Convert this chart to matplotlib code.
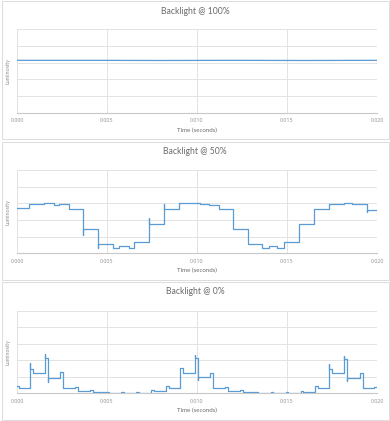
import matplotlib
matplotlib.use("Agg")
import matplotlib.pyplot as plt
from matplotlib.patches import Rectangle

plt.rcParams['font.family'] = ['Lato', 'DejaVu Sans']

# x ticks (seconds)
xticks = [0.000, 0.005, 0.010, 0.015, 0.020]
xtick_labels = ["0.000", "0.005", "0.010", "0.015", "0.020"]

# Backlight @ 100% : (time ms, luminosity)
t100 = [0.0, 4.0, 8.0, 12.0, 16.0, 20.0]
v100 = [3.14, 3.14, 3.13, 3.14, 3.13, 3.14]

# Backlight @ 50% : step start times (ms) and levels, end time 20 ms
t50 = [0.0, 0.65, 1.48, 2.04, 2.31, 2.87, 3.67, 4.50, 5.33, 5.65, 6.20, 6.48,
       7.35, 8.15, 9.02, 9.81, 10.19, 10.69, 11.20, 11.98, 12.83, 13.61, 13.98,
       14.44, 14.81, 15.65, 16.48, 17.31, 18.15, 18.61, 19.17, 19.44]
v50 = [2.70, 2.96, 3.02, 2.90, 2.98, 2.64, 1.44, 0.58, 0.30, 0.42, 0.34, 0.68,
       1.78, 2.68, 3.00, 3.04, 2.96, 2.90, 2.64, 1.44, 0.58, 0.30, 0.42,
       0.34, 0.66, 1.78, 2.68, 2.98, 3.02, 2.94, 2.98, 2.62]
# overshoot spikes at step edges (ms, peak value)
s50 = {3.67: 1.10, 4.50: 0.30, 7.35: 2.14, 8.15: 2.96, 19.44: 2.50}

# Backlight @ 0%
t0 = [0.0, 0.10, 0.70, 0.87, 1.54, 1.72, 2.37, 2.54, 3.24, 3.37, 4.07, 4.22,
      4.94, 5.09, 5.78, 5.93, 6.61, 6.76, 7.44, 7.59, 8.28, 8.43,
      9.07, 9.22, 9.87, 10.04, 10.70, 10.87, 11.57, 11.72, 12.41, 12.56,
      13.26, 13.41, 14.09, 14.24, 14.93, 15.08, 15.76, 15.91, 16.57, 16.72,
      17.33, 17.50, 18.18, 18.33, 19.05, 19.20, 19.85]
v0 = [0.44, 0.34, 1.50, 1.20, 2.16, 0.90, 1.26, 0.30, 0.40, 0.14, 0.20, 0.06,
      0.10, 0.04, 0.08, 0.02, 0.08, 0.04, 0.22, 0.12, 0.46, 0.34,
      1.54, 1.20, 2.16, 0.96, 1.24, 0.32, 0.40, 0.14, 0.20, 0.06,
      0.10, 0.04, 0.08, 0.02, 0.08, 0.04, 0.14, 0.10, 0.46, 0.34,
      1.50, 1.20, 2.10, 0.90, 1.24, 0.30, 0.40]
s0 = {0.70: 1.86, 1.54: 2.40, 1.72: 0.70, 9.07: 1.56, 9.87: 2.30, 10.04: 0.80,
      17.33: 1.80, 18.18: 2.26, 18.33: 0.76}

END_MS = 20.0


def build_steps(starts, levels, spikes):
    xs, ys = [], []
    for i, (t, v) in enumerate(zip(starts, levels)):
        if i > 0:
            xs.append(t / 1000)
            ys.append(levels[i - 1])
        if t in spikes:
            xs.append(t / 1000)
            ys.append(spikes[t])
        xs.append(t / 1000)
        ys.append(v)
    xs.append(END_MS / 1000)
    ys.append(levels[-1])
    return xs, ys


W, H = 390, 421
fig = plt.figure(figsize=(W / 100, H / 100), dpi=100)
fig.patch.set_facecolor('white')

panels = [
    ("Backlight @ 100%", ([t / 1000 for t in t100], v100), (1, 139), (29.3, 112.7)),
    ("Backlight @ 50%", build_steps(t50, v50, s50), (141.5, 279.5), (170.0, 253.3)),
    ("Backlight @ 0%", build_steps(t0, v0, s0), (282, 420), (310.7, 393.3)),
]

title_c = '#6b6b6b'
tick_c = '#8f8f8f'
blue = '#5B9BD5'

for title, (xs, ys), (ftop, fbot), (atop, abot) in panels:
    # panel frame
    fig.patches.append(Rectangle((1.5 / W, 1 - fbot / H), 387 / W, (fbot - ftop) / H,
                                 transform=fig.transFigure, fill=False,
                                 edgecolor='#dcdcdc', linewidth=0.7))
    ax = fig.add_axes([17 / W, 1 - abot / H, 360 / W, (abot - atop) / H])
    ax.plot(xs, ys, color=blue, linewidth=0.9)
    ax.set_xlim(0, 0.02)
    ax.set_ylim(0, 5)
    ax.set_xticks(xticks)
    ax.set_xticklabels(xtick_labels, family=['Open Sans', 'DejaVu Sans'])
    ax.set_yticks([0, 1, 2, 3, 4, 5])
    ax.set_yticklabels([])
    ax.grid(True, color='#e3e3e3', linewidth=0.7)
    ax.set_axisbelow(True)
    for s in ['top', 'right', 'left']:
        ax.spines[s].set_visible(False)
    ax.spines['bottom'].set_color('#c8c8c8')
    ax.spines['bottom'].set_linewidth(0.8)
    ax.tick_params(length=0, labelsize=3.9, labelcolor=tick_c, pad=4)
    ax.set_xlabel("Time (seconds)", fontsize=4.4, color=title_c, labelpad=3)
    ax.set_ylabel("Luminosity", fontsize=3.9, color=tick_c, labelpad=1)
    fig.text(0.5, 1 - (ftop + 10) / H, title, ha='center', va='center',
             fontsize=6.2, color=title_c)

fig.savefig("out.png", dpi=100, facecolor='white')
